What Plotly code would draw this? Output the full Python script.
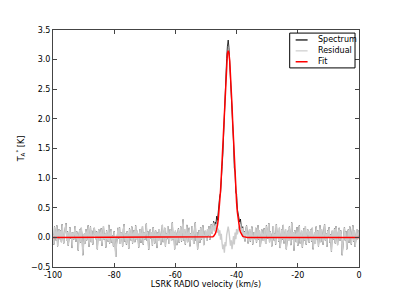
import plotly.graph_objects as go

# Velocity channels (km/s)
vel_start = -100.0
vel_step = 0.25

# Residual (K) (one row = 25 channels = 6.25 km/s)
residual = [
    0.05, -0.12, 0.18, 0.02, -0.05, 0.2, -0.15, 0.08, 0.14, -0.03, 0.12, -0.08, 0.22, 0.02, -0.1, 0.06, 0.15, 0.24, -0.06, 0.1, -0.14, 0.05, 0.17, -0.02, 0.09,
    -0.18, 0.08, -0.04, 0.12, 0.19, -0.07, 0.1, 0.03, -0.22, 0.05, 0.13, -0.09, 0.16, 0.01, -0.3, -0.11, 0.06, -0.1, 0.14, -0.05, 0.09, 0.2, -0.16, 0.03, 0.18,
    -0.08, 0.11, -0.12, 0.04, 0.16, 0.07, -0.03, 0.1, -0.2, 0.07, 0.13, -0.06, 0.02, 0.15, -0.14, 0.09, 0.19, -0.04, 0.06, -0.17, 0.12, 0.01, -0.07, 0.21, -0.1,
    0.05, 0.14, -0.09, 0.03, -0.15, 0.1, -0.05, -0.33, -0.12, 0.08, 0.16, -0.02, 0.17, -0.11, 0.08, 0.03, -0.15, 0.14, 0.22, -0.07, 0.06, -0.12, 0.1, 0.01, -0.19,
    0.15, 0.07, -0.05, 0.18, -0.1, 0.04, 0.12, -0.08, 0.2, -0.03, 0.11, 0.04, -0.17, 0.06, 0.14, -0.09, 0.02, 0.19, -0.12, 0.08, -0.04, 0.16, 0.23, -0.06, 0.1,
    -0.21, 0.05, 0.13, -0.02, 0.09, -0.14, 0.17, 0.03, -0.1, 0.12, 0.06, -0.18, 0.08, -0.06, 0.14, 0.02, -0.12, 0.04, 0.21, -0.08, 0.1, 0.16, -0.15, 0.07, -0.03,
    0.19, 0.02, -0.11, 0.13, 0.09, -0.06, 0.25, -0.04, 0.09, -0.2, 0.11, 0.04, -0.13, 0.07, 0.15, -0.09, 0.02, 0.18, -0.07, 0.1, 0.3, -0.05, 0.14, -0.12, 0.04,
    0.21, -0.08, 0.1, 0.16, -0.15, 0.07, -0.03, 0.19, 0.02, -0.11, 0.13, 0.25, -0.06, 0.09, -0.2, 0.05, 0.12, -0.09, 0.17, -0.04, 0.08, 0.2, -0.13, 0.06, 0.11,
    0.08, -0.06, 0.14, 0.03, 0.19, -0.04, 0.12, 0.22, 0.06, 0.17, 0.25, 0.1, 0.2, 0.14, 0.22, 0.08, 0.15, 0.03, 0.12, -0.04, 0.06, -0.1, -0.2, -0.12, -0.26,
    -0.08, -0.15, 0.04, 0.12, 0.18, 0.1, -0.02, -0.14, -0.05, -0.2, -0.1, 0.02, -0.12, 0.08, -0.03, 0.14, 0.05, 0.1, 0.18, 0.12, 0.22, 0.15, 0.06, 0.16, -0.02,
    0.1, -0.07, 0.12, 0.2, 0.04, -0.1, 0.06, 0.14, -0.07, 0.1, 0.18, -0.12, 0.04, 0.09, -0.03, 0.16, -0.09, 0.07, 0.2, -0.04, 0.11, -0.16, 0.05, 0.13, 0.02,
    -0.06, 0.15, 0.03, -0.11, 0.2, 0.08, -0.02, 0.24, -0.08, 0.1, 0.04, -0.15, 0.12, 0.19, -0.05, 0.07, -0.12, 0.22, 0.01, 0.09, -0.07, 0.16, -0.18, 0.06, 0.13,
    -0.04, 0.21, -0.1, 0.08, 0.14, -0.2, 0.05, 0.11, -0.06, 0.18, 0.02, -0.13, 0.25, -0.03, 0.09, -0.22, 0.12, 0.04, -0.08, 0.17, -0.14, 0.06, 0.2, -0.1, 0.03,
    0.11, -0.17, 0.07, 0.15, -0.05, 0.19, -0.12, 0.02, 0.13, 0.1, -0.09, 0.08, 0.13, -0.07, 0.16, -0.2, 0.04, 0.09, -0.11, 0.18, -0.03, 0.12, -0.15, 0.06, 0.2,
    -0.08, 0.14, 0.03, -0.12, 0.1, 0.22, -0.05, 0.07, -0.16, 0.12, 0.02, 0.17, -0.09, 0.05, -0.24, 0.11, 0.08, -0.04, 0.15, -0.1, 0.19, 0.01, -0.13, 0.09, 0.16,
    -0.06, 0.12, 0.04, -0.3, -0.14, 0.08, 0.17, -0.05, 0.1, -0.2, 0.06, 0.13, -0.09, 0.18, 0.02, -0.12, 0.09, 0.2, -0.07, 0.11, -0.16, 0.05, 0.14, -0.03, 0.08,
    0.12,
]
n_chan = len(residual)
velocity = [round(vel_start + i * vel_step, 3) for i in range(n_chan)]

# Fit (K): non-zero channels around the line peak (~ -42.75 km/s)
fit_first_channel = 207
fit_peak = [0.004, 0.007, 0.012, 0.021, 0.035, 0.057, 0.090, 0.138, 0.207, 0.301, 0.426, 0.587, 0.786,
            1.023, 1.295, 1.595, 1.911, 2.226, 2.522, 2.780, 2.980, 3.107, 3.15,
            3.107, 2.980, 2.780, 2.522, 2.226, 1.911, 1.595, 1.295, 1.023,
            0.786, 0.587, 0.426, 0.301, 0.207, 0.138, 0.090, 0.057, 0.035, 0.021, 0.012, 0.007, 0.004]
fit = [0.0] * fit_first_channel + fit_peak + [0.0] * (n_chan - fit_first_channel - len(fit_peak))

# Spectrum = fit + residual
spectrum = [f + r for f, r in zip(fit, residual)]

series_names = ["Spectrum", "Residual", "Fit"]
series_colors = ["black", "#cccccc", "red"]
series_widths = [0.8, 1.4, 1.5]

x_ticks = [-100, -80, -60, -40, -20, 0]
x_ticklabels = ["-100", "-80", "-60", "-40", "-20", "0"]
y_ticks = [-0.5, 0.0, 0.5, 1.0, 1.5, 2.0, 2.5, 3.0, 3.5]
y_ticklabels = ["\u22120.5", "0.0", "0.5", "1.0", "1.5", "2.0", "2.5", "3.0", "3.5"]

fig = go.Figure()
for name, yvals, color, width in zip(series_names, [spectrum, residual, fit], series_colors, series_widths):
    fig.add_trace(go.Scatter(x=velocity, y=yvals, mode="lines", name=name,
                             line=dict(color=color, width=width), showlegend=False))

font = dict(family="DejaVu Sans", size=8, color="black")
axis_common = dict(showgrid=False, zeroline=False, showline=True, linecolor="#444",
                   linewidth=1, mirror="ticks", ticks="inside", ticklen=4,
                   tickcolor="#444", tickfont=font)

# Hand-built legend box (matplotlib style)
legend_line_widths = [1.2, 1.2, 1.5]
shapes = [dict(type="rect", xref="paper", yref="paper", x0=0.7735, x1=0.987, y0=0.840, y1=0.987,
               line=dict(color="black", width=1), fillcolor="white", layer="above")]
annotations = []
entry_y = [0.958, 0.912, 0.866]
for name, color, width, yy in zip(series_names, series_colors, legend_line_widths, entry_y):
    shapes.append(dict(type="line", xref="paper", yref="paper", x0=0.793, x1=0.832, y0=yy, y1=yy,
                       line=dict(color=color, width=width), layer="above"))
    annotations.append(dict(xref="paper", yref="paper", x=0.858, y=yy, text=name, showarrow=False,
                            xanchor="left", yanchor="middle", font=font))

fig.update_layout(
    width=391, height=291,
    margin=dict(l=42, r=40, t=22, b=31),
    paper_bgcolor="white", plot_bgcolor="white",
    font=font,
    xaxis=dict(range=[-100, 0], tickvals=x_ticks, ticktext=x_ticklabels,
               title=dict(text="LSRK RADIO velocity (km/s)", font=font, standoff=2),
               **axis_common),
    yaxis=dict(range=[-0.5, 3.5], tickvals=y_ticks, ticktext=y_ticklabels,
               title=dict(text="T<sub>A</sub><sup>*</sup> [K]", font=font, standoff=5),
               **axis_common),
    shapes=shapes,
    annotations=annotations,
    showlegend=False,
)

fig.write_html("out.html")
